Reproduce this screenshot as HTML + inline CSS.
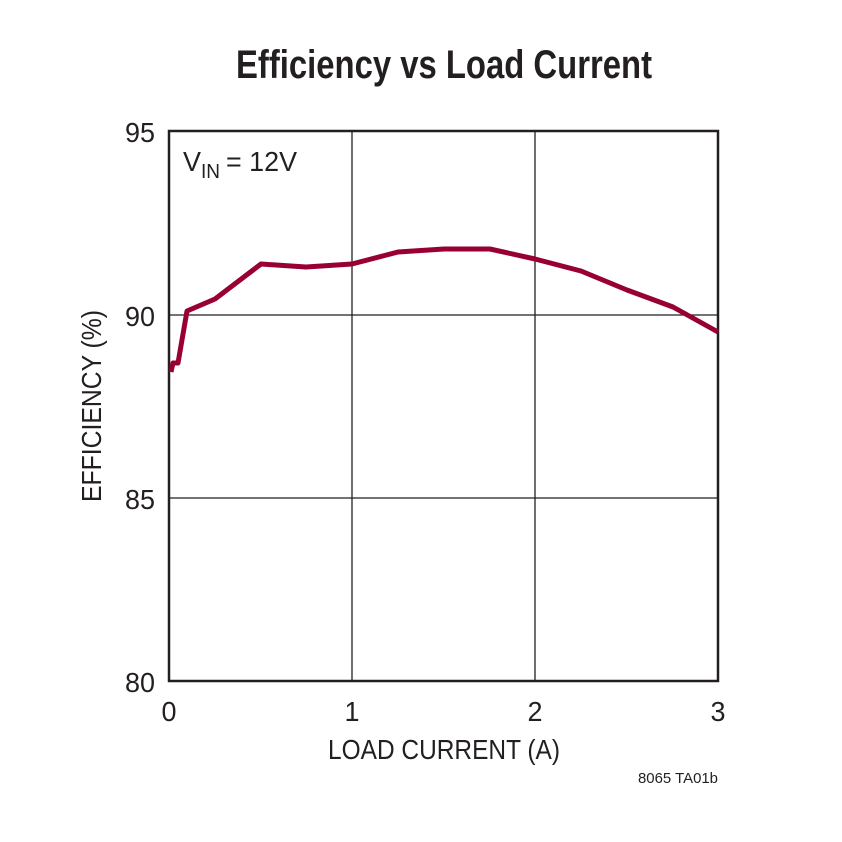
<!DOCTYPE html>
<html><head><style>
html,body{margin:0;padding:0;background:#fff;}
svg{display:block;}
text{font-family:"Liberation Sans",sans-serif;fill:#231f20;}
</style></head><body>
<svg width="842" height="842" viewBox="0 0 842 842" xmlns="http://www.w3.org/2000/svg">
<rect width="842" height="842" fill="#fff"/>
<text x="444" y="78" font-size="40" font-weight="bold" text-anchor="middle" textLength="416" lengthAdjust="spacingAndGlyphs">Efficiency vs Load Current</text>
<g stroke="#231f20" stroke-width="1.3">
<line x1="352" y1="131" x2="352" y2="681"/>
<line x1="535" y1="131" x2="535" y2="681"/>
<line x1="169" y1="315" x2="718" y2="315"/>
<line x1="169" y1="498" x2="718" y2="498"/>
</g>
<rect x="169" y="131" width="549" height="550" fill="none" stroke="#231f20" stroke-width="2.5"/>
<polyline fill="none" stroke="#990032" stroke-width="5" stroke-linejoin="round" points="171,372 173,363 178,363 187,311 215,299 261,264 306,267 352,264 398,252 444,249 490,249 535,259 581,271 627,290 673,307 718,332"/>
<g font-size="28" text-anchor="end">
<text x="155" y="142" textLength="30" lengthAdjust="spacingAndGlyphs">95</text>
<text x="155" y="326" textLength="30" lengthAdjust="spacingAndGlyphs">90</text>
<text x="155" y="509" textLength="30" lengthAdjust="spacingAndGlyphs">85</text>
<text x="155" y="692" textLength="30" lengthAdjust="spacingAndGlyphs">80</text>
</g>
<g font-size="28" text-anchor="middle">
<text x="169" y="721" textLength="15" lengthAdjust="spacingAndGlyphs">0</text>
<text x="352" y="721" textLength="15" lengthAdjust="spacingAndGlyphs">1</text>
<text x="535" y="721" textLength="15" lengthAdjust="spacingAndGlyphs">2</text>
<text x="718" y="721" textLength="15" lengthAdjust="spacingAndGlyphs">3</text>
</g>
<text x="444" y="759" font-size="28" text-anchor="middle" textLength="232" lengthAdjust="spacingAndGlyphs">LOAD CURRENT (A)</text>
<text transform="translate(101,406) rotate(-90)" font-size="28" text-anchor="middle" textLength="192" lengthAdjust="spacingAndGlyphs">EFFICIENCY (%)</text>
<text x="183" y="171" font-size="28" textLength="18" lengthAdjust="spacingAndGlyphs">V</text>
<text x="201" y="178" font-size="20" textLength="19" lengthAdjust="spacingAndGlyphs">IN</text>
<text x="226" y="171" font-size="28" textLength="71" lengthAdjust="spacingAndGlyphs">= 12V</text>
<text x="718" y="783" font-size="15" text-anchor="end" textLength="80" lengthAdjust="spacingAndGlyphs">8065 TA01b</text>
</svg>
</body></html>
